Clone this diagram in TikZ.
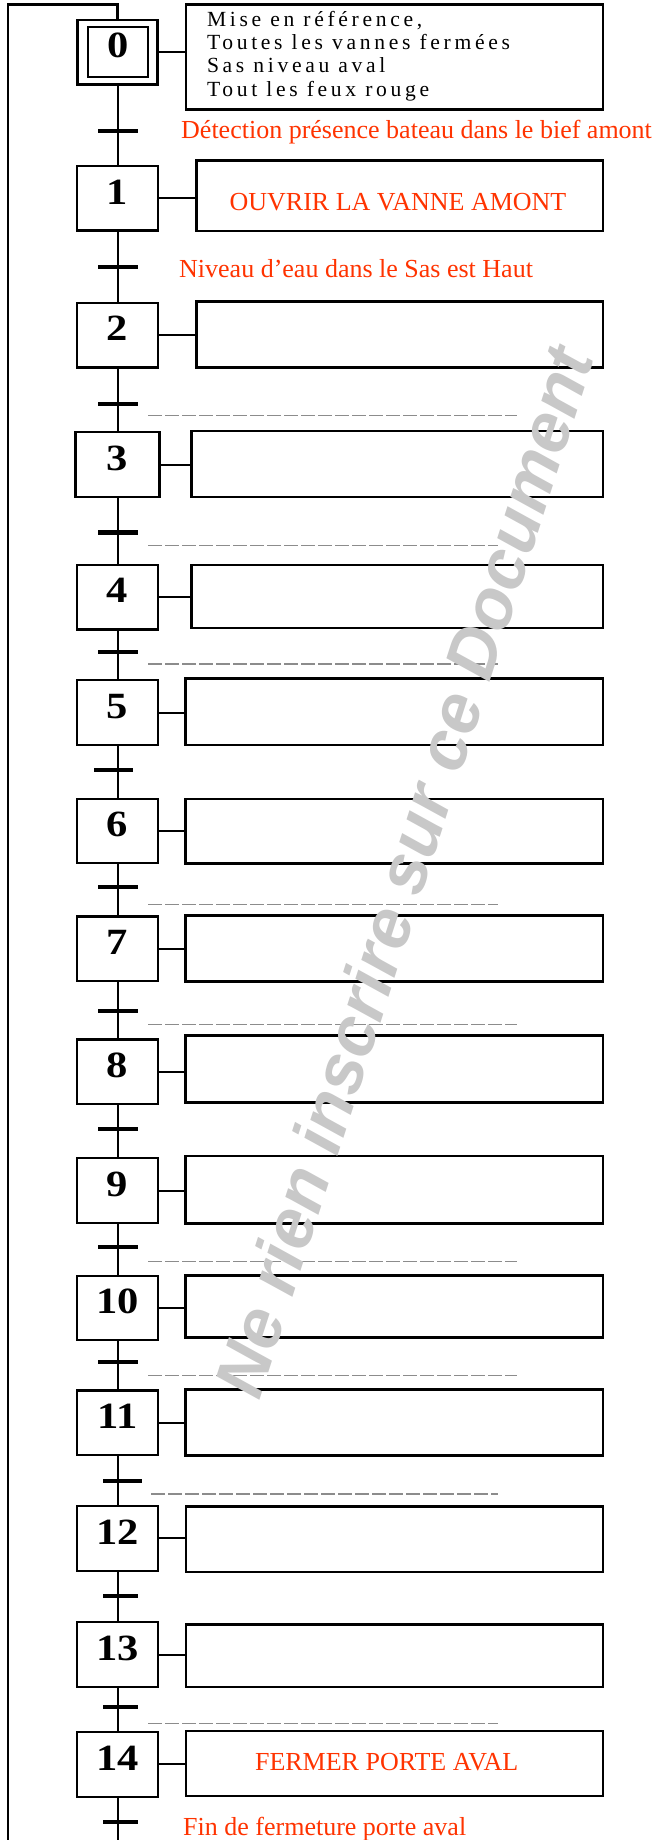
\documentclass[tikz,border=0pt]{standalone}
\usepackage{fontspec}
\setmainfont{Liberation Serif}
\newfontfamily\filigrane{Liberation Sans}
\usepackage{tikz}
\usetikzlibrary{positioning}
\definecolor{grafrouge}{RGB}{255,51,0}
\definecolor{grafgris}{RGB}{140,140,140}
\definecolor{grafclair}{RGB}{200,200,200}

\begin{document}
\begin{tikzpicture}[x=1pt, y=-1pt,
        etape/.style={rectangle, draw, line width=2.3pt, inner sep=0pt, minimum width=80.7pt, minimum height=64.6pt, text depth=13pt, font=\fontsize{37}{37}\selectfont\bfseries\addfontfeature{FakeStretch=1.15}},
        action/.style={rectangle, draw, line width=2.6pt, inner sep=0pt, minimum width=417.3pt},
        trans/.style={rectangle, fill, inner sep=0pt, minimum width=40pt, minimum height=4.3pt},
        lien/.style={line width=2pt},
        retour/.style={line width=2.5pt},
        pointil/.style={grafgris, line width=1.5pt, dash pattern=on 14pt off 3pt},
        recept/.style={text=grafrouge, inner sep=0pt, font=\fontsize{26}{26}\selectfont}]
        \useasboundingbox (0,0) rectangle (664,1840);
        % etapes
        \node[etape, minimum width=80pt] (s0) at (117.5,52.2) {};
        \node[etape, minimum width=60.3pt, minimum height=50.6pt] (s0i) at (117.8,52) {0};
        \node[etape] (s1) at (117.5,198.3) {1};
        \node[etape] (s2) at (117.5,335.2) {2};
        \node[etape, minimum width=84pt] (s3) at (117.5,464.5) {3};
        \node[etape] (s4) at (117.5,597.3) {4};
        \node[etape] (s5) at (117.5,712.5) {5};
        \node[etape] (s6) at (117.5,831) {6};
        \node[etape] (s7) at (117.5,948.9) {7};
        \node[etape] (s8) at (117.5,1071.7) {8};
        \node[etape] (s9) at (117.5,1190.5) {9};
        \node[etape] (s10) at (117.5,1308) {10};
        \node[etape] (s11) at (117.5,1422.9) {11};
        \node[etape] (s12) at (117.5,1538.4) {12};
        \node[etape] (s13) at (117.5,1654.5) {13};
        \node[etape] (s14) at (117.5,1764.4) {14};
        % actions
        \node[action, minimum width=417pt, minimum height=104.6pt] (a0) at (394.5,57) {};
        \node[action, minimum width=406.5pt, minimum height=70.7pt] (a1) at (399.75,195.65) {};
        \node[action, minimum width=406.5pt, minimum height=66.4pt] (a2) at (399.75,334.5) {};
        \node[action, minimum width=411.5pt, minimum height=66pt] (a3) at (397.25,464) {};
        \node[action, minimum width=411.3pt, minimum height=63pt] (a4) at (397.35,596.5) {};
        \node[action, minimum height=66.7pt] (a5) at (394.35,711.65) {};
        \node[action, minimum height=64.3pt] (a6) at (394.35,831.15) {};
        \node[action, minimum height=66pt] (a7) at (394.35,948.7) {};
        \node[action, minimum height=67pt] (a8) at (394.35,1068.8) {};
        \node[action, minimum height=67.3pt] (a9) at (394.35,1189.65) {};
        \node[action, minimum height=62pt] (a10) at (394.35,1306.7) {};
        \node[action, minimum height=66.4pt] (a11) at (394.35,1422.5) {};
        \node[action, minimum height=65.3pt] (a12) at (394.5,1539.35) {};
        \node[action, minimum height=62.3pt] (a13) at (394.5,1655.85) {};
        \node[action, minimum height=65pt] (a14) at (394.5,1763.5) {};
        \node[anchor=base west, align=left, inner sep=0pt, font=\fontsize{21.6}{23.3}\selectfont\addfontfeature{LetterSpace=17}] (a0t) at (206.8,96)
          {Mise en référence,\\Toutes les vannes fermées\\Sas niveau aval\\Tout les feux rouge};
        \node[recept, anchor=base] (a1t) at (398,210.7) {OUVRIR LA VANNE AMONT};
        \node[recept, anchor=base] (a14t) at (386.7,1770) {FERMER PORTE AVAL};
        % liaisons etape -- action
        \draw[lien] (s0.east) -- (s0.east -| a0.west);
        \draw[lien] (s1.east) -- (s1.east -| a1.west);
        \draw[lien] (s2.east) -- (s2.east -| a2.west);
        \draw[lien] (s3.east) -- (s3.east -| a3.west);
        \draw[lien] (s4.east) -- (s4.east -| a4.west);
        \draw[lien] (s5.east) -- (s5.east -| a5.west);
        \draw[lien] (s6.east) -- (s6.east -| a6.west);
        \draw[lien] (s7.east) -- (s7.east -| a7.west);
        \draw[lien] (s8.east) -- (s8.east -| a8.west);
        \draw[lien] (s9.east) -- (s9.east -| a9.west);
        \draw[lien] (s10.east) -- (s10.east -| a10.west);
        \draw[lien] (s11.east) -- (s11.east -| a11.west);
        \draw[lien] (s12.east) -- (s12.east -| a12.west);
        \draw[lien] (s13.east) -- (s13.east -| a13.west);
        \draw[lien] (s14.east) -- (s14.east -| a14.west);
        % axe vertical et retour
        \coordinate (fin) at (117.5,1840);
        \coordinate (haut) at (8,4.3);
        \coordinate (bas) at (8,1840);
        \draw[lien] (s0) -- (s1) -- (s2) -- (s3) -- (s4) -- (s5) -- (s6) -- (s7);
        \draw[lien] (s7) -- (s8) -- (s9) -- (s10) -- (s11) -- (s12) -- (s13) -- (s14) -- (fin);
        \draw[retour] (s0.north) |- (haut) -- (bas);
        % transitions
        \node[trans] (t0) at (118,131) {};
        \node[trans] (t1) at (118,266.7) {};
        \node[trans] (t2) at (118,403.7) {};
        \node[trans] (t3) at (118,532.5) {};
        \node[trans] (t4) at (118,651.7) {};
        \node[trans, minimum width=38.7pt] (t5) at (113.3,770) {};
        \node[trans] (t6) at (118,887.3) {};
        \node[trans] (t7) at (118,1011) {};
        \node[trans] (t8) at (118,1128.7) {};
        \node[trans] (t9) at (118,1246.7) {};
        \node[trans] (t10) at (118,1362.3) {};
        \node[trans, minimum width=38.4pt] (t11) at (122.5,1481) {};
        \node[trans, minimum width=34.4pt] (t12) at (120.5,1595.7) {};
        \node[trans, minimum width=34.4pt] (t13) at (120.5,1706.7) {};
        \node[trans, minimum width=35pt] (t14) at (120.2,1822.3) {};
        \node[recept, anchor=base west] (r0) at (181,138.7) {Détection présence bateau dans le bief amont};
        \node[recept, anchor=base west] (r1) at (179,277.7) {Niveau d’eau dans le Sas est Haut};
        \node[recept, anchor=base west] (r14) at (183,1835) {Fin de fermeture porte aval};
        % receptivites a remplir
        \draw[pointil] (148,415.3) -- (517,415.3);
        \draw[pointil] (148,545.7) -- (498,545.7);
        \draw[pointil] (148,664) -- (498,664);
        \draw[pointil] (148,904.3) -- (498,904.3);
        \draw[pointil] (148,1024.3) -- (517,1024.3);
        \draw[pointil] (148,1261.7) -- (517,1261.7);
        \draw[pointil] (148,1375.7) -- (517,1375.7);
        \draw[pointil] (151,1494) -- (498,1494);
        \draw[pointil] (148,1723.3) -- (498,1723.3);
        % filigrane
        \node[rotate=72.2, text=grafclair, inner sep=0pt, font=\filigrane\fontsize{70}{70}\selectfont\bfseries\itshape] (filig) at (403,872) {Ne rien inscrire sur ce Document};
      \end{tikzpicture}
\end{document}
